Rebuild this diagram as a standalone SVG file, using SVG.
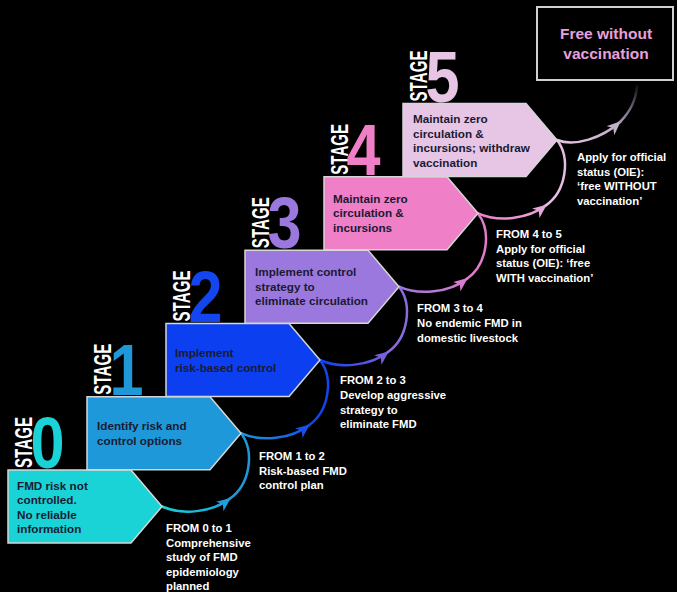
<svg xmlns="http://www.w3.org/2000/svg" width="677" height="592" viewBox="0 0 677 592">
<style>
  .box { stroke: #d6d6d6; stroke-width: 1.5; }
  .btxt { font-family: "Liberation Sans", Arial, sans-serif; font-weight: bold; font-size: 11.7px; fill: #1a1a33; }
  .stage { font-family: "Liberation Sans", Arial, sans-serif; font-weight: bold; font-size: 23.7px; fill: #ffffff; }
  .num { font-family: "Liberation Sans", Arial, sans-serif; font-weight: bold; font-size: 72px; }
  .lbl { font-family: "Liberation Sans", Arial, sans-serif; font-weight: bold; font-size: 11.3px; fill: #ffffff; }
  .arc { fill: none; stroke-width: 2.5; stroke-linecap: round; }
  .goal { font-family: "Liberation Sans", Arial, sans-serif; font-weight: bold; font-size: 15.5px; fill: #e8a0dc; text-anchor: middle; }
</style>
<defs>
  <linearGradient id="g0" x1="0" y1="0" x2="1" y2="0"><stop offset="0" stop-color="#19d3d6"/><stop offset="1" stop-color="#1ea0dc"/></linearGradient>
  <linearGradient id="g1" x1="0" y1="0" x2="1" y2="0"><stop offset="0" stop-color="#1e98d8"/><stop offset="1" stop-color="#1a50ea"/></linearGradient>
  <linearGradient id="g2" x1="0" y1="0" x2="1" y2="0"><stop offset="0" stop-color="#0c3ff0"/><stop offset="1" stop-color="#7a5ee0"/></linearGradient>
  <linearGradient id="g3" x1="0" y1="0" x2="1" y2="0"><stop offset="0" stop-color="#9b78dd"/><stop offset="1" stop-color="#d77ccf"/></linearGradient>
  <linearGradient id="g4" x1="0" y1="0" x2="1" y2="0"><stop offset="0" stop-color="#ef7fc7"/><stop offset="1" stop-color="#e6a8dc"/></linearGradient>
  <linearGradient id="g5" x1="0" y1="0" x2="1" y2="0"><stop offset="0" stop-color="#e6c6e4"/><stop offset="1" stop-color="#bfb0c6"/></linearGradient>
  <linearGradient id="g5b" x1="0" y1="1" x2="0" y2="0"><stop offset="0" stop-color="#a898b0"/><stop offset="1" stop-color="#a898b0" stop-opacity="0.1"/></linearGradient>
  <marker id="m0" viewBox="0 0 14 12" refX="13" refY="6" markerWidth="14" markerHeight="12" markerUnits="userSpaceOnUse" orient="auto"><path d="M0,0 L14,6 L0,12 L4,6 Z" fill="#1ea0dc"/></marker>
  <marker id="m1" viewBox="0 0 14 12" refX="13" refY="6" markerWidth="14" markerHeight="12" markerUnits="userSpaceOnUse" orient="auto"><path d="M0,0 L14,6 L0,12 L4,6 Z" fill="#1a50ea"/></marker>
  <marker id="m2" viewBox="0 0 14 12" refX="13" refY="6" markerWidth="14" markerHeight="12" markerUnits="userSpaceOnUse" orient="auto"><path d="M0,0 L14,6 L0,12 L4,6 Z" fill="#7a5ee0"/></marker>
  <marker id="m3" viewBox="0 0 14 12" refX="13" refY="6" markerWidth="14" markerHeight="12" markerUnits="userSpaceOnUse" orient="auto"><path d="M0,0 L14,6 L0,12 L4,6 Z" fill="#d77ccf"/></marker>
  <marker id="m4" viewBox="0 0 14 12" refX="13" refY="6" markerWidth="14" markerHeight="12" markerUnits="userSpaceOnUse" orient="auto"><path d="M0,0 L14,6 L0,12 L4,6 Z" fill="#e6a8dc"/></marker>
  <marker id="m5" viewBox="0 0 14 12" refX="13" refY="6" markerWidth="14" markerHeight="12" markerUnits="userSpaceOnUse" orient="auto"><path d="M0,0 L14,6 L0,12 L4,6 Z" fill="#c0b0c8"/></marker>
</defs>
<rect x="0" y="0" width="677" height="592" fill="#000000"/>

<g id="connectors">
  <g transform="translate(162,506.5)">
    <path class="arc" stroke="url(#g0)" marker-end="url(#m0)" d="M0,0 C20,9 50,6 68,-8"/>
    <path class="arc" stroke="#1e98d8" d="M68,-8 C88,-22 93,-55 79,-73.3"/>
  </g>
  <g transform="translate(241,433.2)">
    <path class="arc" stroke="url(#g1)" marker-end="url(#m1)" d="M0,0 C20,9 50,6 68,-8"/>
    <path class="arc" stroke="#1446ea" d="M68,-8 C88,-22 93,-55 79,-73.3"/>
  </g>
  <g transform="translate(320,360)">
    <path class="arc" stroke="url(#g2)" marker-end="url(#m2)" d="M0,0 C20,9 50,6 68,-8"/>
    <path class="arc" stroke="#8a6ae0" d="M68,-8 C88,-22 93,-55 79,-73.3"/>
  </g>
  <g transform="translate(399,286.7)">
    <path class="arc" stroke="url(#g3)" marker-end="url(#m3)" d="M0,0 C20,9 50,6 68,-8"/>
    <path class="arc" stroke="#e07ccb" d="M68,-8 C88,-22 93,-55 79,-73.3"/>
  </g>
  <g transform="translate(478,213.3)">
    <path class="arc" stroke="url(#g4)" marker-end="url(#m4)" d="M0,0 C20,9 50,6 68,-8"/>
    <path class="arc" stroke="#e6bde2" d="M68,-8 C88,-22 93,-55 79,-73.3"/>
  </g>
  <g transform="translate(557,140)">
    <path class="arc" stroke="url(#g5)" marker-end="url(#m5)" d="M0,0 C18,7 45,-2 63,-18"/>
    <path class="arc" stroke="url(#g5b)" d="M63,-18 C73,-28 79,-40 80,-54"/>
  </g>
</g>

<g id="stage0" transform="translate(8,470)">
  <polygon class="box" fill="#19d3d6" points="0,0 123,0 154,36.5 123,73 0,73"/>
  <text class="stage" transform="translate(24,-2) rotate(-90)" textLength="51" lengthAdjust="spacingAndGlyphs">STAGE</text>
  <text class="num" fill="#19d3d6" transform="translate(22.5,-2) scale(0.85,1)">0</text>
  <text class="btxt"><tspan x="9" y="19.5">FMD risk not</tspan><tspan x="9" dy="14.5">controlled.</tspan><tspan x="9" dy="14.5">No reliable</tspan><tspan x="9" dy="14.5">information</tspan></text>
</g>
<g id="stage1" transform="translate(87,396.7)">
  <polygon class="box" fill="#1e98d8" points="0,0 123,0 154,36.5 123,73 0,73"/>
  <text class="stage" transform="translate(24,-2) rotate(-90)" textLength="51" lengthAdjust="spacingAndGlyphs">STAGE</text>
  <text class="num" fill="#1e98d8" transform="translate(22.5,-2) scale(0.85,1)">1</text>
  <text class="btxt"><tspan x="10" y="33.5">Identify risk and</tspan><tspan x="10" dy="14.5">control options</tspan></text>
</g>
<g id="stage2" transform="translate(166,323.5)">
  <polygon class="box" fill="#0c3ff0" points="0,0 123,0 154,36.5 123,73 0,73"/>
  <text class="stage" transform="translate(24,-2) rotate(-90)" textLength="51" lengthAdjust="spacingAndGlyphs">STAGE</text>
  <text class="num" fill="#1446f0" transform="translate(22.5,-2) scale(0.85,1)">2</text>
  <text class="btxt"><tspan x="9" y="33.5">Implement</tspan><tspan x="9" dy="14.5">risk-based control</tspan></text>
</g>
<g id="stage3" transform="translate(245,250.2)">
  <polygon class="box" fill="#9b78dd" points="0,0 123,0 154,36.5 123,73 0,73"/>
  <text class="stage" transform="translate(24,-2) rotate(-90)" textLength="51" lengthAdjust="spacingAndGlyphs">STAGE</text>
  <text class="num" fill="#9b78dd" transform="translate(22.5,-2) scale(0.85,1)">3</text>
  <text class="btxt"><tspan x="10" y="26.2">Implement control</tspan><tspan x="10" dy="14.5">strategy to</tspan><tspan x="10" dy="14.5">eliminate circulation</tspan></text>
</g>
<g id="stage4" transform="translate(324,176.8)">
  <polygon class="box" fill="#ef7fc7" points="0,0 123,0 154,36.5 123,73 0,73"/>
  <text class="stage" transform="translate(24,-2) rotate(-90)" textLength="51" lengthAdjust="spacingAndGlyphs">STAGE</text>
  <text class="num" fill="#ef7fc7" transform="translate(22.5,-2) scale(0.85,1)">4</text>
  <text class="btxt"><tspan x="9" y="26.2">Maintain zero</tspan><tspan x="9" dy="14.5">circulation &amp;</tspan><tspan x="9" dy="14.5">incursions</tspan></text>
</g>
<g id="stage5" transform="translate(403,103.5)">
  <polygon class="box" fill="#e6c6e4" points="0,0 123,0 154,36.5 123,73 0,73"/>
  <text class="stage" transform="translate(24,-2) rotate(-90)" textLength="51" lengthAdjust="spacingAndGlyphs">STAGE</text>
  <text class="num" fill="#e6c6e4" transform="translate(22.5,-2) scale(0.85,1)">5</text>
  <text class="btxt"><tspan x="10" y="19.5">Maintain zero</tspan><tspan x="10" dy="14.5">circulation &amp;</tspan><tspan x="10" dy="14.5">incursions; withdraw</tspan><tspan x="10" dy="14.5">vaccination</tspan></text>
</g>

<g id="goal">
  <rect x="537" y="7" width="136" height="73" fill="#000000" stroke="#d0d0d0" stroke-width="2"/>
  <text class="goal"><tspan x="606" y="38.5">Free without</tspan><tspan x="606" y="58.5">vaccination</tspan></text>
</g>

<g id="labels">
  <text class="lbl"><tspan x="166" y="532">FROM 0 to 1</tspan><tspan x="166" dy="14.5">Comprehensive</tspan><tspan x="166" dy="14.5">study of FMD</tspan><tspan x="166" dy="14.5">epidemiology</tspan><tspan x="166" dy="14.5">planned</tspan></text>
  <text class="lbl"><tspan x="259" y="460">FROM 1 to 2</tspan><tspan x="259" dy="14.5">Risk-based FMD</tspan><tspan x="259" dy="14.5">control plan</tspan></text>
  <text class="lbl"><tspan x="340" y="384">FROM 2 to 3</tspan><tspan x="340" dy="14.8">Develop aggressive</tspan><tspan x="340" dy="14.8">strategy to</tspan><tspan x="340" dy="14.8">eliminate FMD</tspan></text>
  <text class="lbl"><tspan x="417" y="312">FROM 3 to 4</tspan><tspan x="417" dy="14.8">No endemic FMD in</tspan><tspan x="417" dy="14.8">domestic livestock</tspan></text>
  <text class="lbl"><tspan x="496" y="238">FROM 4 to 5</tspan><tspan x="496" dy="14.6">Apply for official</tspan><tspan x="496" dy="14.6">status (OIE): ‘free</tspan><tspan x="496" dy="14.6">WITH vaccination’</tspan></text>
  <text class="lbl"><tspan x="577" y="161">Apply for official</tspan><tspan x="577" dy="14.7">status (OIE):</tspan><tspan x="577" dy="14.7">‘free WITHOUT</tspan><tspan x="577" dy="14.7">vaccination’</tspan></text>
</g>
</svg>
